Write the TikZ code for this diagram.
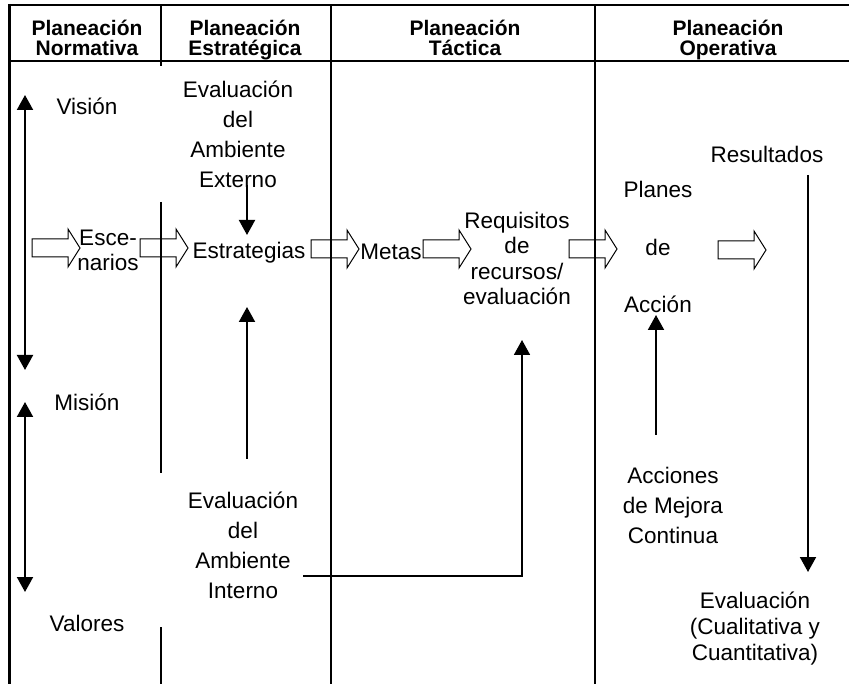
\documentclass[tikz,border=0pt]{standalone}
\usepackage{fontspec}
\setmainfont{Liberation Sans}
\usetikzlibrary{arrows.meta}
\begin{document}
\begin{tikzpicture}[x=1pt,y=-1pt,
  hdr/.style={font=\fontsize{21}{20.5}\selectfont\bfseries, align=center, anchor=base, inner sep=0pt},
  txt/.style={font=\fontsize{22.5}{30}\selectfont, align=center, anchor=base, inner sep=0pt},
  frameline/.style={line width=2pt},
  arr/.style={line width=2pt, -{Triangle[width=16pt,length=15pt]}},
  darr/.style={line width=2pt, {Triangle[width=16pt,length=15pt]}-{Triangle[width=16pt,length=15pt]}},
  barrow/.pic={\draw[line width=1pt, line join=miter] (0,-9) -- (36,-9) -- (36,-19) -- (48,0) -- (36,19) -- (36,9) -- (0,9) -- cycle;}
]
\fill[white] (0,0) rectangle (849,684);
\useasboundingbox (0,0) rectangle (849,684);

% frame
\draw[line width=2.5pt] (8,5) -- (849,5);
\draw[line width=2.5pt] (8,61) -- (849,61);
\draw[line width=3.5pt] (9.5,4) -- (9.5,684);
\draw[frameline] (161,5) -- (161,66);
\draw[frameline] (161,202) -- (161,473);
\draw[frameline] (161,627) -- (161,684);
\draw[frameline] (331,5) -- (331,684);
\draw[frameline] (595,5) -- (595,684);

% headers (anchor = baseline of last line)
\node[hdr] (hN) at (87,56) {Planeación\\Normativa};
\node[hdr] (hE) at (245,56) {Planeación\\Estratégica};
\node[hdr] (hT) at (465,56) {Planeación\\Táctica};
\node[hdr] (hO) at (728,56) {Planeación\\Operativa};

% left column
\node[txt] (vision) at (87,115) {Visión};
\node[txt] (mision) at (87,411) {Misión};
\node[txt] (valores) at (87,631) {Valores};
\node[txt, font=\fontsize{22.5}{25}\selectfont] (esc) at (108,271) {Esce-\\narios};

\coordinate (nv1) at (25,95);
\coordinate (nv2) at (25,370);
\coordinate (nv3) at (25,402);
\coordinate (nv4) at (25,592);
\draw[darr] (nv1) -- (nv2);
\draw[darr] (nv3) -- (nv4);

% strategic column
\node[txt] (ext) at (238,188) {Evaluación\\del\\Ambiente\\Externo};
\node[txt] (estr) at (249,259) {Estrategias};
\node[txt] (int) at (243,598) {Evaluación\\del\\Ambiente\\Interno};

\coordinate (e1) at (247,185);
\coordinate (e2) at (247,235);
\draw[arr] (e1) -- (e2);
\coordinate (i1) at (247,459);
\coordinate (i2) at (247,307);
\draw[arr] (i1) -- (i2);

% tactical column
\node[txt] (metas) at (391,260) {Metas};
\node[txt, font=\fontsize{22.5}{25.5}\selectfont] (req) at (517,305) {Requisitos\\de\\recursos/\\evaluación};

\coordinate (r0) at (303,576);
\coordinate (r1) at (522,576);
\coordinate (r2) at (522,340);
\draw[arr, line width=1.8pt] (r0) -- (r1) -- (r2);

% operative column
\node[txt, font=\fontsize{22.5}{57.5}\selectfont] (planes) at (658,313) {Planes\\de\\Acción};
\node[txt] (res) at (767,163) {Resultados};
\node[txt] (acc) at (673,543) {Acciones\\de Mejora\\Continua};
\node[txt, font=\fontsize{22.5}{26}\selectfont] (evq) at (755,660) {Evaluación\\(Cualitativa y\\Cuantitativa)};

\coordinate (a1) at (656,435);
\coordinate (a2) at (656,315);
\draw[arr] (a1) -- (a2);
\coordinate (s1) at (808,175);
\coordinate (s2) at (808,572);
\draw[arr] (s1) -- (s2);

% block arrows
\path (32,248) pic {barrow};
\path (140,248) pic {barrow};
\path (311,249) pic {barrow};
\path (423,249) pic {barrow};
\path (569,249) pic {barrow};
\path (718,250) pic {barrow};
\end{tikzpicture}
\end{document}
